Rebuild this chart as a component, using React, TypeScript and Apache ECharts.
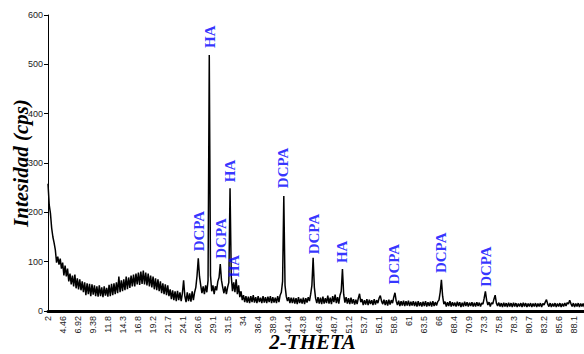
import React, { useEffect, useRef } from "react";
import * as echarts from "echarts";

// X tick labels (2-theta, every 2.46 degrees)
const tickLabels = [
  "2", "4.46", "6.92", "9.38", "11.8", "14.3", "16.8", "19.2", "21.7", "24.1",
  "26.6", "29.1", "31.5", "34", "36.4", "38.9", "41.4", "43.8", "46.3", "48.7",
  "51.2", "53.7", "56.1", "58.6", "61", "63.5", "66", "68.4", "70.9", "73.3",
  "75.8", "78.3", "80.7", "83.2", "85.6", "88.1", "",
];
const thetaStart = 2;
const thetaLabelStep = 2.46;
const thetaStep = 0.2;

const seg02to12 = [258, 215, 198, 168, 150, 138, 124, 98, 110, 94, 106, 86, 98, 72, 92, 70, 86, 60, 76, 54, 72, 50, 74, 46, 66, 44, 64, 42, 60, 38, 58, 32, 56, 34, 55, 30, 54, 33, 52, 30, 50, 29, 52, 30, 48, 28, 50, 31, 47, 29];
const seg12to22 = [53, 30, 55, 32, 56, 34, 58, 36, 70, 38, 62, 40, 64, 42, 70, 44, 68, 47, 72, 50, 74, 50, 76, 54, 78, 53, 80, 55, 82, 54, 78, 52, 76, 50, 72, 48, 70, 44, 66, 42, 64, 40, 60, 36, 56, 34, 54, 32, 52, 30];
const seg22to32 = [44, 24, 42, 22, 40, 20, 41, 22, 38, 20, 36, 62, 30, 18, 38, 20, 36, 19, 40, 22, 38, 48, 72, 107, 70, 52, 36, 50, 34, 52, 38, 62, 519, 72, 40, 52, 34, 50, 42, 60, 68, 95, 62, 48, 36, 50, 34, 48, 58, 249];
const seg32to42 = [70, 40, 58, 38, 64, 34, 52, 28, 40, 22, 32, 18, 30, 17, 29, 16, 30, 18, 32, 17, 28, 16, 30, 18, 27, 16, 30, 17, 28, 16, 29, 18, 30, 16, 28, 17, 27, 16, 30, 18, 32, 38, 60, 233, 52, 30, 20, 28, 16, 27];
const seg42to52 = [16, 27, 15, 26, 14, 28, 16, 25, 15, 27, 14, 26, 17, 28, 20, 34, 52, 108, 48, 26, 16, 28, 15, 27, 14, 29, 15, 26, 16, 31, 15, 27, 14, 30, 18, 33, 16, 28, 15, 32, 40, 85, 34, 17, 28, 15, 26, 14, 27, 15];
const seg52to62 = [24, 13, 23, 14, 26, 35, 18, 24, 12, 22, 13, 24, 12, 23, 14, 22, 12, 24, 13, 22, 16, 26, 31, 20, 14, 23, 12, 22, 11, 23, 13, 22, 16, 28, 37, 20, 12, 21, 10, 20, 11, 21, 10, 20, 11, 21, 10, 19, 11, 20];
const seg62to72 = [10, 19, 9, 20, 10, 18, 9, 19, 10, 20, 9, 18, 10, 19, 9, 20, 10, 18, 11, 19, 22, 38, 63, 30, 14, 19, 9, 18, 10, 20, 9, 18, 10, 17, 9, 19, 10, 18, 8, 17, 9, 19, 10, 18, 9, 17, 10, 18, 9, 17];
const seg72to82 = [9, 18, 10, 17, 9, 16, 14, 26, 40, 22, 12, 18, 9, 17, 14, 24, 32, 16, 10, 17, 9, 16, 8, 17, 9, 16, 8, 17, 9, 16, 8, 17, 9, 16, 8, 15, 9, 16, 8, 17, 9, 16, 8, 15, 9, 16, 8, 15, 9, 16];
const seg82to90 = [8, 15, 9, 16, 8, 15, 12, 18, 23, 14, 9, 16, 8, 15, 9, 16, 8, 15, 9, 16, 8, 15, 9, 16, 10, 17, 14, 22, 15, 9, 16, 8, 15, 9, 16, 8, 15, 9, 15, 8, 14];

// Peak annotations
const peakNames = ["DCPA", "HA", "DCPA", "HA", "HA", "DCPA", "DCPA", "HA", "DCPA", "DCPA", "DCPA"];
const peakTheta = [26.73, 28.48, 30.28, 31.8, 32.45, 40.46, 45.53, 50.17, 58.6, 66.35, 73.7];
const peakLabelLevel = [162, 556, 147, 284, 91, 290, 156, 120, 95, 118, 90];

export default function App() {
  const ref = useRef<HTMLDivElement>(null);
  useEffect(() => {
    document.body.style.margin = "0";
    if (!ref.current) return;
    const chart = echarts.init(ref.current, null, { renderer: "svg" });
    const intensity = [
      ...seg02to12, ...seg12to22, ...seg22to32, ...seg32to42, ...seg42to52,
      ...seg52to62, ...seg62to72, ...seg72to82, ...seg82to90,
    ];
    const spectrum = intensity.map((v, i) => [+(thetaStart + i * thetaStep).toFixed(1), v]);
    const labelsData = peakNames.map((n, i) => ({ value: [peakTheta[i], peakLabelLevel[i]], name: n }));
    const xMax = thetaStart + thetaLabelStep * (tickLabels.length - 1);
    chart.setOption({
      animation: false,
      grid: { left: 48, top: 15, bottom: 43, right: -5, containLabel: false, outerBoundsMode: "none" },
      xAxis: [
        {
          type: "category",
          data: tickLabels,
          boundaryGap: false,
          offset: 1,
          axisLine: { show: true, lineStyle: { color: "#000", width: 3 } },
          axisTick: { show: false },
          axisLabel: {
            interval: 0,
            rotate: 90,
            fontSize: 9,
            margin: 4,
            color: "#222",
            fontFamily: "Liberation Sans",
          },
          name: "2-THETA",
          nameLocation: "middle",
          nameGap: 19,
          nameMoveOverlap: false,
          nameTextStyle: {
            fontFamily: "Liberation Serif",
            fontWeight: "bold",
            fontStyle: "italic",
            fontSize: 21,
            color: "#000",
            padding: [0, 12, 0, 0],
          },
          splitLine: { show: false },
        },
        {
          type: "value",
          show: false,
          min: thetaStart,
          max: xMax,
          splitLine: { show: false },
        },
      ],
      yAxis: {
        type: "value",
        min: 0,
        max: 600,
        interval: 100,
        axisLine: { show: true, lineStyle: { color: "#000", width: 1 } },
        axisTick: { show: true, length: 4, lineStyle: { color: "#000" } },
        axisLabel: { fontSize: 9, color: "#222", margin: 5, fontFamily: "Liberation Sans" },
        splitLine: { show: false },
        name: "Intesidad (cps)",
        nameLocation: "middle",
        nameGap: 17,
        nameRotate: 90,
        nameMoveOverlap: false,
        nameTextStyle: {
          fontFamily: "Liberation Serif",
          fontWeight: "bold",
          fontStyle: "italic",
          fontSize: 21,
          color: "#000",
        },
      },
      series: [
        {
          type: "line",
          xAxisIndex: 1,
          data: spectrum,
          showSymbol: false,
          symbol: "none",
          lineStyle: { color: "#000", width: 1.5 },
          z: 2,
        },
        {
          type: "scatter",
          xAxisIndex: 1,
          data: labelsData,
          symbolSize: 1,
          itemStyle: { color: "rgba(0,0,0,0)" },
          label: {
            show: true,
            position: "inside",
            rotate: 90,
            formatter: (p: any) => p.name,
            color: "#0000ff",
            fontFamily: "Liberation Serif",
            fontWeight: "bold",
            fontSize: 15,
          },
          z: 3,
        },
      ],
    });
    return () => chart.dispose();
  }, []);
  return <div ref={ref} style={{ width: 584, height: 354 }} />;
}
